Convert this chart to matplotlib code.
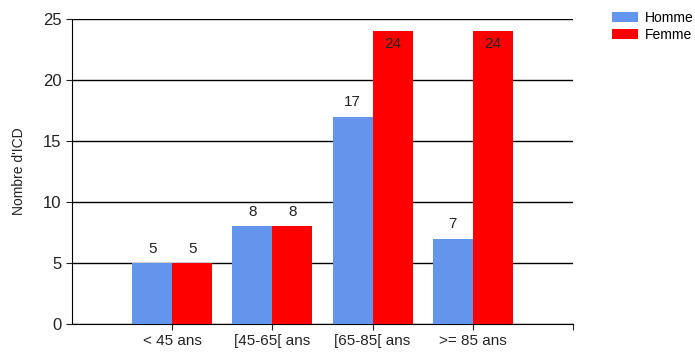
import matplotlib.pyplot as plt
import numpy as np

plt.rcParams['font.family'] = ['Liberation Sans Narrow', 'Liberation Sans', 'DejaVu Sans']

categories = ["< 45 ans", "[45-65[ ans", "[65-85[ ans", ">= 85 ans"]
homme = [5, 8, 17, 7]
femme = [5, 8, 24, 24]

fig = plt.figure(figsize=(6.95, 3.59), dpi=100)
ax = fig.add_axes([0.1036, 0.0975, 0.7209, 0.8495])

x = np.arange(len(categories))
w = 0.4
b1 = ax.bar(x - w / 2, homme, w, color="#6495ED", label="Homme", zorder=3)
b2 = ax.bar(x + w / 2, femme, w, color="#FF0000", label="Femme", zorder=3)

ax.set_xlim(-1, 4)
ax.set_ylim(0, 25)
ax.set_yticks(range(0, 26, 5))
ax.set_xticks(list(x) + [4])
ax.set_xticklabels(categories + [""])
ax.yaxis.grid(True, color="black", linewidth=1, zorder=0)
for s in ["top", "right"]:
    ax.spines[s].set_visible(False)
ax.tick_params(axis="x", labelsize=11, colors="#222222", length=4)
ax.tick_params(axis="y", labelsize=12, colors="#222222", length=4)
ax.set_ylabel("Nombre d'ICD", fontsize=10, color="#222222", labelpad=12)

# values above bars, or inside when the bar reaches the top
for bars in (b1, b2):
    for rect in bars:
        h = rect.get_height()
        cx = rect.get_x() + rect.get_width() / 2
        if h > 22:
            ax.text(cx, h - 0.5, str(int(h)), ha="center", va="top", fontsize=11, color="#222222", zorder=4)
        else:
            ax.text(cx, h + 0.6, str(int(h)), ha="center", va="bottom", fontsize=11, color="#222222", zorder=4)

fig.legend(loc="upper left", bbox_to_anchor=(0.880, 0.97), frameon=False, fontsize=10,
           handlelength=1.9, handleheight=0.75, handletextpad=0.5, labelspacing=0.2,
           borderpad=0, borderaxespad=0)

fig.savefig("out.png", dpi=100)
